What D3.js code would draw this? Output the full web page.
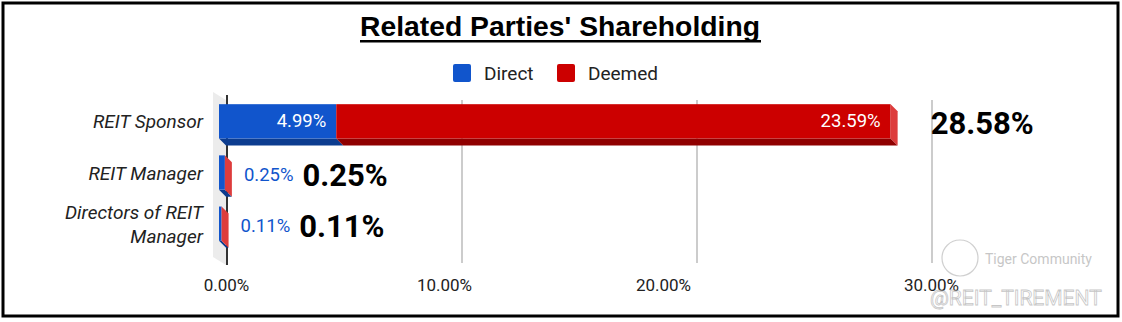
<!DOCTYPE html>
<html>
<head>
<meta charset="utf-8">
<script src="https://cdn.jsdelivr.net/npm/d3@7"></script>
<style>
  body { margin: 0; background: #fff; }
  text { font-family: Roboto, "Noto Sans", sans-serif; }
</style>
</head>
<body>
<div id="chart"></div>
<script>
// data
const categories = ["REIT Sponsor", "REIT Manager", "Directors of REIT Manager"];
const direct = [4.99, 0.25, 0.11];
const deemed = [23.59, 0, 0];
const totals = [28.58, 0.25, 0.11];
const ticks = [0, 10, 20, 30];
const tickLabels = ["0.00%", "10.00%", "20.00%", "30.00%"];
const seriesNames = ["Direct", "Deemed"];

const W = 1122, H = 322;
const svg = d3.select("#chart").append("svg")
    .attr("width", W)
    .attr("height", H);

// frame
svg.append("rect")
    .attr("x", 3).attr("y", 3)
    .attr("width", 1115).attr("height", 313)
    .attr("fill", "#fff")
    .attr("stroke", "#000")
    .attr("stroke-width", 3);

// title
svg.append("text")
    .attr("x", 560).attr("y", 36)
    .attr("text-anchor", "middle")
    .attr("textLength", 400)
    .attr("lengthAdjust", "spacingAndGlyphs")
    .style("font-family", "'Liberation Sans Narrow', 'Liberation Sans', sans-serif")
    .style("font-weight", "bold")
    .style("font-size", "28px")
    .attr("fill", "#000")
    .text("Related Parties' Shareholding");
svg.append("rect")
    .attr("x", 360).attr("y", 40)
    .attr("width", 401).attr("height", 2.5)
    .attr("fill", "#000");

// legend
const colors = { Direct: "#1155cc", Deemed: "#cc0000" };
const legend = svg.append("g");
const legendPos = [453, 557];
seriesNames.forEach((s, i) => {
    legend.append("rect")
        .attr("x", legendPos[i]).attr("y", 64)
        .attr("width", 18).attr("height", 18)
        .attr("rx", 2)
        .attr("fill", colors[s]);
    legend.append("text")
        .attr("x", legendPos[i] + 31).attr("y", 80)
        .style("font-size", "19px")
        .attr("fill", "#222")
        .text(s);
});

// scales
const depthX = 7, depthY = 7;
const xBack = d3.scaleLinear().domain([0, 30]).range([227, 932]);   // back wall grid
const xFront = d3.scaleLinear().domain([0, 30]).range([219, 924]);  // bar front face
const xLabel = d3.scaleLinear().domain([0, 10, 20, 30]).range([226, 444, 663, 931]);
const y = d3.scaleBand().domain(categories).range([96, 249]).paddingInner(0.33).paddingOuter(0.16);

// side wall
svg.append("polygon")
    .attr("points", "213,92 226,100 226,265 213,257")
    .attr("fill", "#ececec");

// grid
svg.append("g")
    .selectAll("line")
    .data(ticks.filter(t => t > 0))
    .join("line")
    .attr("x1", d => xBack(d)).attr("x2", d => xBack(d))
    .attr("y1", 100).attr("y2", 263)
    .attr("stroke", "#cccccc")
    .attr("stroke-width", 2);

svg.append("line")
    .attr("x1", xBack(0)).attr("x2", xBack(0))
    .attr("y1", 95).attr("y2", 265)
    .attr("stroke", "#333")
    .attr("stroke-width", 2);

// x axis labels
const xAxis = svg.append("g")
    .attr("transform", "translate(0,276)")
    .call(d3.axisBottom(xLabel).tickValues(ticks).tickSize(0).tickFormat((d, i) => tickLabels[i]));
xAxis.select(".domain").remove();
xAxis.selectAll("text")
    .style("font-family", "Roboto, sans-serif")
    .style("font-size", "17px")
    .attr("fill", "#222");

// category labels
const catG = svg.append("g");
categories.forEach(c => {
    const cy = y(c) + y.bandwidth() / 2;
    const lines = c === "Directors of REIT Manager" ? ["Directors of REIT", "Manager"] : [c];
    lines.forEach((ln, j) => {
        catG.append("text")
            .attr("x", 203)
            .attr("y", cy + 7 + (j - (lines.length - 1) / 2) * 24)
            .attr("text-anchor", "end")
            .style("font-size", "19px")
            .style("font-style", "italic")
            .attr("fill", "#222")
            .text(ln);
    });
});

// 3D bars
const shade = {
    Direct: { front: "#1155cc", bottom: "#0c3c8f", side: "#3a6fd4" },
    Deemed: { front: "#cc0000", bottom: "#8f0000", side: "#dd3c3c" }
};
const bars = svg.append("g");
categories.forEach((c, i) => {
    const y0 = y(c), y1 = y(c) + y.bandwidth();
    const segs = [
        { s: "Direct", a: 0, b: direct[i] },
        { s: "Deemed", a: direct[i], b: direct[i] + deemed[i] }
    ];
    segs.forEach(seg => {
        const x0 = xFront(seg.a), x1 = xFront(seg.b);
        if (x1 > x0) {
            bars.append("polygon")
                .attr("points", `${x0},${y1} ${x1},${y1} ${x1 + depthX},${y1 + depthY} ${x0 + depthX},${y1 + depthY}`)
                .attr("fill", shade[seg.s].bottom);
            bars.append("rect")
                .attr("x", x0).attr("y", y0)
                .attr("width", x1 - x0).attr("height", y1 - y0)
                .attr("fill", shade[seg.s].front);
        }
    });
    // end face belongs to the last (deemed) segment
    const xe = xFront(direct[i] + deemed[i]);
    bars.append("polygon")
        .attr("points", `${xe},${y0} ${xe + depthX},${y0 + depthY} ${xe + depthX},${y1 + depthY} ${xe},${y1}`)
        .attr("fill", shade.Deemed.side);

    // value labels
    let labelEnd;
    if (xFront(direct[i]) - xFront(0) > 60) {
        bars.append("text")
            .attr("x", xFront(direct[i]) - 10).attr("y", (y0 + y1) / 2 + 6)
            .attr("text-anchor", "end")
            .style("font-size", "18.5px")
            .attr("fill", "#fff")
            .text(direct[i].toFixed(2) + "%");
        if (deemed[i] > 0) {
            bars.append("text")
                .attr("x", xe - 10).attr("y", (y0 + y1) / 2 + 6)
                .attr("text-anchor", "end")
                .style("font-size", "18.5px")
                .attr("fill", "#fff")
                .text(deemed[i].toFixed(2) + "%");
        }
        labelEnd = xe + depthX + 33;
    } else {
        const t = bars.append("text")
            .attr("x", xe + depthX + 12).attr("y", (y0 + y1) / 2 + 8)
            .style("font-size", "18.5px")
            .attr("fill", "#1155cc")
            .text(direct[i].toFixed(2) + "%");
        labelEnd = xe + depthX + 12 + t.node().getComputedTextLength() + 9;
    }
    bars.append("text")
        .attr("x", labelEnd).attr("y", (y0 + y1) / 2 + 13)
        .style("font-size", "31px")
        .style("font-weight", "bold")
        .attr("fill", "#000")
        .text(totals[i].toFixed(2) + "%");
});

// watermark
const wm = svg.append("g").attr("opacity", 0.55);
wm.append("circle")
    .attr("cx", 960).attr("cy", 258).attr("r", 18)
    .attr("fill", "none").attr("stroke", "#aaa").attr("stroke-width", 1.2);
wm.append("text")
    .attr("x", 985).attr("y", 264)
    .style("font-size", "14px")
    .attr("fill", "#999")
    .text("Tiger Community");
wm.append("text")
    .attr("x", 930).attr("y", 305)
    .style("font-size", "21px")
    .attr("fill", "#fff")
    .attr("stroke", "#999")
    .attr("stroke-width", 0.8)
    .text("@REIT_TIREMENT");
</script>
</body>
</html>
